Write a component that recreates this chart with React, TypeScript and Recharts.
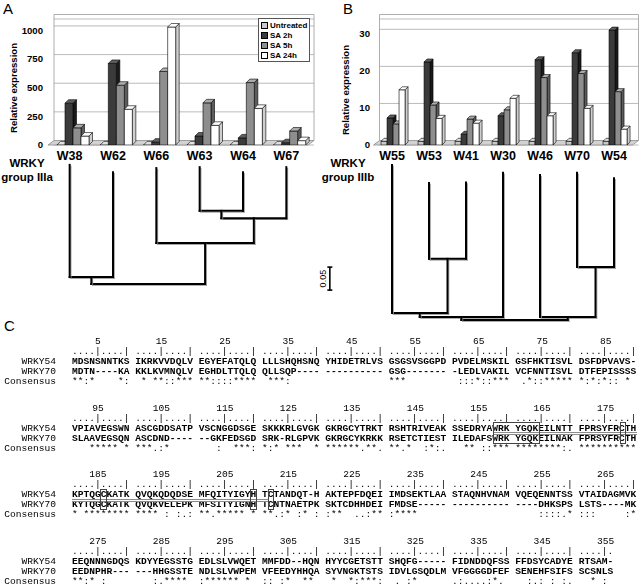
import React from 'react';
import {
  BarChart, Bar, XAxis, YAxis, CartesianGrid, ReferenceArea, Legend,
  ScatterChart, Scatter, ReferenceLine,
} from 'recharts';

// ---------------- data ----------------
const treatmentNames = ['Untreated', 'SA 2h', 'SA 5h', 'SA 24h'];
const treatmentKeys = ['u', 'h2', 'h5', 'h24'];

const iiiaGenes = ['W38', 'W62', 'W66', 'W63', 'W64', 'W67'];
const iiiaUntreated = [1, 1, 1, 1, 1, 1];
const iiiaSA2h = [365, 712, 25, 78, 62, 20];
const iiiaSA5h = [150, 522, 642, 368, 545, 122];
const iiiaSA24h = [78, 312, 1030, 172, 320, 38];
const iiiaTicks = [0, 250, 500, 750, 1000];
const iiiaGridTicks = [250, 500, 750, 1000];

const iiibGenes = ['W55', 'W53', 'W41', 'W30', 'W46', 'W70', 'W54'];
const iiibUntreated = [1, 1, 1, 1, 1, 1, 1];
const iiibSA2h = [7.3, 22.4, 2.9, 7.9, 23.0, 24.9, 31.0];
const iiibSA5h = [5.7, 10.8, 7.0, 9.5, 18.2, 19.3, 14.4];
const iiibSA24h = [14.9, 7.2, 5.9, 12.6, 7.9, 9.9, 4.3];
const iiibTicks = [0, 10, 20, 30];
const iiibGridTicks = [10, 20, 30];

// dendrograms: leaf depth from root, merges [childA, childB, depth]
const iiiaLeafDepth = [0.259, 0.243, 0.252, 0.254, 0.243, 0.254];
const iiiaMerges = [[3, 4, 0.159], [6, 5, 0.143], [2, 7, 0.089], [0, 1, 0.015], [9, 8, 0]];
const iiibLeafDepth = [0.337, 0.298, 0.299, 0.32, 0.315, 0.32, 0.308];
const iiibMerges = [[1, 2, 0.133], [0, 7, 0.015], [8, 3, 0.0065], [5, 6, 0.115], [4, 10, 0.0065], [9, 11, 0]];
const scaleBarLength = 0.05;
const scaleBarLabel = '0.05';
const scaleBarPos = { x: -1.68, y: 0.065 };

// alignment
const rulerStarts = [1, 91, 181, 271];
const rowNames = ['WRKY54', 'WRKY70', 'Consensus'];
const wrky54Rows = [
  'MDSNSNNTKS IKRKVVDQLV EGYEFATQLQ LLLSHQHSNQ YHIDETRLVS GSGSVSGGPD PVDELMSKIL GSFHKTISVL DSFDPVAVS-',
  'VPIAVEGSWN ASCGDDSATP VSCNGGDSGE SKKKRLGVGK GKRGCYTRKT RSHTRIVEAK SSEDRYAWRK YGQKEILNTT FPRSYFRCTH',
  'KPTQGCKATK QVQKQDQDSE MFQITYIGYH TCTANDQT-H AKTEPFDQEI IMDSEKTLAA STAQNHVNAM VQEQENNTSS VTAIDAGMVK',
  'EEQNNNGDQS KDYYEGSSTG EDLSLVWQET MMFDD--HQN HYYCGETSTT SHQFG----- FIDNDDQFSS FFDSYCADYE RTSAM-',
];
const wrky70Rows = [
  'MDTN----KA KKLKVMNQLV EGHDLTTQLQ QLLSQP---- ---------- GSG------- -LEDLVAKIL VCFNNTISVL DTFEPISSSS',
  'SLAAVEGSQN ASCDND---- --GKFEDSGD SRK-RLGPVK GKRGCYKRKK RSETCTIEST ILEDAFSWRK YGQKEILNAK FPRSYFRCTH',
  'KYTQGCKATK QVQKVELEPK MFSITYIGNH TCNTNAETPK SKTCDHHDEI FMDSE----- ---------- ----DHKSPS LSTS----MK',
  'EEDNPHR--- ---HHGSSTE NDLSLVWPEM VFEEDYHHQA SYVNGKTSTS IDVLGSQDLM VFGGGGDFEF SENEHFSIFS SCSNLS',
];
const consensusChunks = [
  ['**:*    *:', ' * **::***', '**::::****', ' ***:     ', '          ', '***       ', ' :::*::***', ' .*::*****', '*:*:*:: * '],
  ['   ***** *', '***.:*    ', '   :  ***:', '*:* ***  *', '******.**.', '**.*  :*:.', '  ** ::***', '********:.', '**********'],
  ['* ********', '**** : :.:', '**.***** *', '**.:* :* :', ':**  ..:**', ':****     ', '          ', '    ::::.*', ':::     :*'],
  ['**:* :    ', '   :.**** ', ':****** * ', ':: :*  ** ', ' *  *:***:', ' . :*     ', '.:....:*. ', '  :.: : :.', '  * : '],
];
const rulerChunks = [
  Array(9).fill('....|....|'),
  Array(9).fill('....|....|'),
  Array(9).fill('....|....|'),
  [...Array(8).fill('....|....|'), '....|.'],
];
const boxedResidues = [
  { block: 1, from: 158, to: 164 },
  { block: 1, from: 178, to: 178 },
  { block: 2, from: 186, to: 186 },
  { block: 2, from: 210, to: 210 },
  { block: 2, from: 212, to: 212 },
];
const underlinedResidues = [
  { block: 1, from: 158, to: 180 },
  { block: 2, from: 181, to: 211 },
];

// ---------------- styles ----------------
const SANS = '"Liberation Sans", Arial, sans-serif';
const MONO = '"Liberation Mono", "Courier New", monospace';
const frontColors = ['#c8c8c8', '#3b3b3b', '#8e8e8e', '#ffffff'];
const topColors = ['#e0e0e0', '#5e5e5e', '#ababab', '#ffffff'];
const sideColors = ['#969696', '#1a1a1a', '#5c5c5c', '#cfcfcf'];

const PLOT_TOP = 19;
const X_AXIS_H = 20;
const CHART_H = 165;
const PLOT_H = CHART_H - PLOT_TOP - X_AXIS_H;
const WALL_DX = 6;
const WALL_DY = 4.5;

const wallDomain = (max: number) => {
  const u = (max / PLOT_H) * WALL_DY;
  return [-u, max - u];
};

const makeBox = (i: number, d: number, shift: number) => (props: any) => {
  const { x, y, width, height } = props;
  if (x == null || y == null || !isFinite(x) || !isFinite(y)) return <g />;
  const x0 = x + shift;
  const w = width;
  const h = Math.max(height || 0, 0);
  const top = `${x0},${y} ${x0 + d},${y - d} ${x0 + w + d},${y - d} ${x0 + w},${y}`;
  const side = `${x0 + w},${y} ${x0 + w + d},${y - d} ${x0 + w + d},${y + h - d} ${x0 + w},${y + h}`;
  return (
    <g stroke="#000" strokeWidth={0.6} strokeLinejoin="round">
      <polygon points={side} fill={sideColors[i]} />
      <rect x={x0} y={y} width={w} height={h} fill={frontColors[i]} />
      <polygon points={top} fill={topColors[i]} />
    </g>
  );
};

const frameShape = (p: any) => {
  const { x, y, width, height } = p;
  const b = y + height;
  return (
    <g>
      <polygon
        points={`${x},${b} ${x + width},${b} ${x + width + WALL_DX},${b - WALL_DY} ${x + WALL_DX},${b - WALL_DY}`}
        fill="#d2d2d2" stroke="#8a8a8a" strokeWidth={0.8}
      />
      <polyline
        points={`${x + WALL_DX},${b - WALL_DY} ${x + WALL_DX},${y - WALL_DY} ${x + width + WALL_DX},${y - WALL_DY} ${x + width + WALL_DX},${b - WALL_DY}`}
        fill="none" stroke="#9a9a9a" strokeWidth={0.8}
      />
    </g>
  );
};

const legendContent = () => (
  <div style={{ border: '1px solid #555', background: '#fff', padding: '1px 2px 1px 2px', width: 46, fontFamily: SANS }}>
    {treatmentNames.map((n, i) => (
      <div key={n} style={{ display: 'flex', alignItems: 'center', height: 10, fontSize: 8, fontWeight: 700, color: '#000', whiteSpace: 'nowrap' }}>
        <span style={{ display: 'inline-block', flex: '0 0 auto', width: 5, height: 5, border: '1px solid #000', background: frontColors[i], marginRight: 2 }} />
        <span>{n}</span>
      </div>
    ))}
  </div>
);

const yLabel = (cx: number, dy: number) => (props: any) => {
  const vb = props.viewBox || { x: 0, y: 0, width: 0, height: 0 };
  const x = vb.x + cx;
  const y = vb.y + vb.height / 2 + dy;
  return (
    <text x={x} y={y} transform={`rotate(-90 ${x} ${y})`} textAnchor="middle" dominantBaseline="central"
      style={{ fontFamily: SANS, fontSize: 9.6, fontWeight: 700, fill: '#000' }}>
      Relative expression
    </text>
  );
};

function ExpressionChart(props: {
  genes: string[]; series: number[][]; max: number; ticks: number[]; gridTicks: number[];
  yWidth: number; marginRight: number; depth: number; shift: number; labelCx: number; labelDy: number; legend?: boolean;
}) {
  const { genes, series, max, ticks, gridTicks, yWidth, marginRight, depth, shift, labelCx, labelDy, legend } = props;
  const data = genes.map((g, i) => {
    const row: any = { gene: g };
    treatmentKeys.forEach((k, j) => { row[k] = series[j][i]; });
    return row;
  });
  const W = 320;
  return (
    <BarChart width={W} height={CHART_H} data={data} margin={{ top: PLOT_TOP, right: marginRight, bottom: 0, left: 0 }}
      barCategoryGap="15%" barGap={0}>
      <XAxis dataKey="gene" height={X_AXIS_H} axisLine={false} tickLine={false} tickSize={4} tickMargin={2} interval={0}
        tick={{ fontSize: 12.5, fontWeight: 700, fill: '#000', fontFamily: SANS }} />
      <YAxis width={yWidth} domain={[0, max]} ticks={ticks} allowDataOverflow axisLine={false} tickLine={false}
        tickSize={yWidth === 48 ? 3 : 1.5} tickMargin={2} interval={0}
        tick={{ fontSize: 9.6, fontWeight: 700, fill: '#000', fontFamily: SANS }}
        label={yLabel(labelCx, labelDy)} />
      <YAxis yAxisId="wall" hide domain={wallDomain(max)} ticks={gridTicks} allowDataOverflow />
      <ReferenceArea y1={0} y2={max} shape={frameShape} ifOverflow="visible" />
      <CartesianGrid yAxisId="wall" vertical={false} stroke="#a9a9a9" strokeWidth={0.8}
        x={yWidth + WALL_DX} width={W - yWidth - marginRight} />
      {treatmentKeys.map((k, i) => (
        <Bar key={k} dataKey={k} name={treatmentNames[i]} fill={frontColors[i]} stroke="#000"
          shape={makeBox(i, depth, shift)} isAnimationActive={false} />
      ))}
      {legend && (
        <Legend layout="horizontal" verticalAlign="middle" align="center" content={legendContent}
          wrapperStyle={{ top: 18, left: 258, width: 'auto', height: 'auto' }} />
      )}
    </BarChart>
  );
}

const branchShape = (p: any) => (
  <g>
    <line x1={p.x1 + 1.3} y1={p.y1 + 1.3} x2={p.x2 + 1.3} y2={p.y2 + 1.3} stroke="#9a9a9a" strokeWidth={1} strokeLinecap="square" />
    <line x1={p.x1} y1={p.y1} x2={p.x2} y2={p.y2} stroke="#000" strokeWidth={2} strokeLinecap="square" />
  </g>
);

const scaleBarShape = (p: any) => {
  const cy = (p.y1 + p.y2) / 2;
  const tx = p.x1 - 4;
  return (
    <g stroke="#000" strokeWidth={1.6}>
      <line x1={p.x1} y1={p.y1} x2={p.x2} y2={p.y2} />
      <line x1={p.x1 - 2.5} y1={p.y1} x2={p.x1 + 2.5} y2={p.y1} />
      <line x1={p.x2 - 2.5} y1={p.y2} x2={p.x2 + 2.5} y2={p.y2} />
      <text x={tx} y={cy} transform={`rotate(-90 ${tx} ${cy})`} textAnchor="middle" stroke="none"
        style={{ fontFamily: SANS, fontSize: 9, fill: '#000' }}>{scaleBarLabel}</text>
    </g>
  );
};

function Dendrogram(props: {
  leafDepth: number[]; merges: number[][]; xDomain: number[]; yMax: number;
  width: number; height: number; margin: any; scaleBar?: boolean;
}) {
  const { leafDepth, merges, xDomain, yMax, width, height, margin, scaleBar } = props;
  const nodes = leafDepth.map((d, i) => ({ x: i, y: d }));
  const segs: { x: number; y: number }[][] = [];
  merges.forEach(([a, b, d]) => {
    const na = nodes[a];
    const nb = nodes[b];
    segs.push([{ x: na.x, y: d }, { x: nb.x, y: d }]);
    segs.push([{ x: na.x, y: d }, { x: na.x, y: na.y }]);
    segs.push([{ x: nb.x, y: d }, { x: nb.x, y: nb.y }]);
    nodes.push({ x: (na.x + nb.x) / 2, y: d });
  });
  const leaves = leafDepth.map((d, i) => ({ x: i, y: d }));
  return (
    <ScatterChart width={width} height={height} margin={margin}>
      <XAxis type="number" dataKey="x" domain={xDomain} hide allowDataOverflow />
      <YAxis type="number" dataKey="y" domain={[0, yMax]} hide allowDataOverflow />
      <Scatter data={leaves} shape={() => <g />} isAnimationActive={false} />
      {segs.map((s, i) => (
        <ReferenceLine key={i} segment={s} shape={branchShape} ifOverflow="visible" />
      ))}
      {scaleBar && (
        <ReferenceLine
          segment={[{ x: scaleBarPos.x, y: scaleBarPos.y }, { x: scaleBarPos.x, y: scaleBarPos.y + scaleBarLength }]}
          shape={scaleBarShape} ifOverflow="visible" />
      )}
    </ScatterChart>
  );
}

// ---------------- alignment layout ----------------
const CHAR_W = 5.77;
const SEQ_X = 72;
const LABEL_RIGHT = 56;
const BLOCK_Y = [341.5, 408, 474.5, 541];
const LINE_OFF = [0, 10, 20, 30, 40];
const FONT_PX = 9.6;
const LINE_H = 9;
const TOP_ADJ = 4.2;
const TEXT_COLOR = '#000';

const colOf = (block: number, pos: number) => {
  const idx = pos - rulerStarts[block];
  return Math.floor(idx / 10) * 11 + (idx % 10);
};

const monoLine = (text: string, left: number, cy: number, key: string, weight: number) => (
  <div key={key} style={{
    position: 'absolute', left, top: cy - TOP_ADJ, height: LINE_H, lineHeight: `${LINE_H}px`,
    fontFamily: MONO, fontSize: FONT_PX, whiteSpace: 'pre', color: TEXT_COLOR, fontWeight: weight,
  }}>{text}</div>
);

function Alignment() {
  const items: any[] = [];
  BLOCK_Y.forEach((by, b) => {
    const nChunks = rulerChunks[b].length;
    for (let c = 0; c < nChunks; c++) {
      const n = rulerStarts[b] + c * 10 + 4;
      const cx = SEQ_X + (c * 11 + 4) * CHAR_W + CHAR_W / 2;
      items.push(
        <div key={`n${b}-${c}`} style={{
          position: 'absolute', left: cx - 12, width: 24, textAlign: 'center', top: by + LINE_OFF[0] - TOP_ADJ,
          height: LINE_H, lineHeight: `${LINE_H}px`, fontFamily: MONO, fontSize: FONT_PX, color: TEXT_COLOR,
        }}>{n}</div>
      );
    }
    items.push(monoLine(rulerChunks[b].join(' '), SEQ_X, by + LINE_OFF[1], `r${b}`, 400));
    const seqs = [wrky54Rows[b], wrky70Rows[b], consensusChunks[b].join(' ')];
    seqs.forEach((s, r) => {
      items.push(
        <div key={`l${b}-${r}`} style={{
          position: 'absolute', left: 0, width: LABEL_RIGHT, textAlign: 'right', top: by + LINE_OFF[2 + r] - TOP_ADJ,
          height: LINE_H, lineHeight: `${LINE_H}px`, fontFamily: MONO, fontSize: FONT_PX, color: TEXT_COLOR, whiteSpace: 'pre',
        }}>{rowNames[r]}</div>
      );
      items.push(monoLine(s, SEQ_X, by + LINE_OFF[2 + r], `s${b}-${r}`, r < 2 ? 700 : 400));
    });
  });
  underlinedResidues.forEach((u, i) => {
    const x1 = SEQ_X + colOf(u.block, u.from) * CHAR_W;
    const x2 = SEQ_X + (colOf(u.block, u.to) + 1) * CHAR_W;
    const y = BLOCK_Y[u.block] + LINE_OFF[2] + 4;
    items.push(<div key={`u${i}`} style={{ position: 'absolute', left: x1, top: y, width: x2 - x1, height: 1, borderTop: '1px solid #8a8a8a', borderBottom: '1px solid #8a8a8a' }} />);
  });
  boxedResidues.forEach((bx, i) => {
    const x1 = SEQ_X + colOf(bx.block, bx.from) * CHAR_W - 0.5;
    const x2 = SEQ_X + (colOf(bx.block, bx.to) + 1) * CHAR_W + 0.5;
    const y1 = BLOCK_Y[bx.block] + LINE_OFF[2] - 6;
    const y2 = BLOCK_Y[bx.block] + LINE_OFF[3] + 5.5;
    items.push(<div key={`b${i}`} style={{ position: 'absolute', left: x1, top: y1, width: x2 - x1, height: y2 - y1, border: '1px solid #444', boxSizing: 'border-box' }} />);
  });
  return (
    <div style={{ position: 'absolute', left: 0, top: 0, width: 640, height: 588, willChange: 'transform', transform: 'translateZ(0)' }}>
      {items}
    </div>
  );
}

const panelLetter = (t: string, left: number, top: number) => (
  <div style={{ position: 'absolute', left, top, fontFamily: SANS, fontSize: 15, color: '#000', lineHeight: '16px' }}>{t}</div>
);

const groupLabel = (line2: string, left: number) => (
  <div style={{ position: 'absolute', left, top: 156, width: 54, textAlign: 'center', fontFamily: SANS, fontSize: 11.5, fontWeight: 700, lineHeight: '14px', color: '#000' }}>
    WRKY<br />{line2}
  </div>
);

export default function App() {
  return (
    <div style={{ position: 'absolute', left: 0, top: 0, width: 640, height: 588, background: '#fff', overflow: 'hidden', fontFamily: SANS }}>
      <div style={{ position: 'absolute', left: 0, top: 0 }}>
        <ExpressionChart genes={iiiaGenes} series={[iiiaUntreated, iiiaSA2h, iiiaSA5h, iiiaSA24h]} max={1100}
          ticks={iiiaTicks} gridTicks={iiiaGridTicks} yWidth={48} marginRight={12} depth={3.5} shift={2.5}
          labelCx={13.3} labelDy={6} legend />
      </div>
      <div style={{ position: 'absolute', left: 320, top: 0 }}>
        <ExpressionChart genes={iiibGenes} series={[iiibUntreated, iiibSA2h, iiibSA5h, iiibSA24h]} max={34}
          ticks={iiibTicks} gridTicks={iiibGridTicks} yWidth={53.5} marginRight={7.5} depth={3} shift={2}
          labelCx={25.7} labelDy={8} />
      </div>
      <div style={{ position: 'absolute', left: 0, top: 150 }}>
        <Dendrogram leafDepth={iiiaLeafDepth} merges={iiiaMerges} xDomain={[-0.5, 5.5]} yMax={0.26}
          width={320} height={140} margin={{ top: 14.4, right: 12, bottom: 6, left: 48 }} />
      </div>
      <div style={{ position: 'absolute', left: 290, top: 150 }}>
        <Dendrogram leafDepth={iiibLeafDepth} merges={iiibMerges} xDomain={[-2.5, 6.5]} yMax={0.34}
          width={350} height={180} margin={{ top: 13.6, right: 7.5, bottom: 10, left: 9.5 }} scaleBar />
      </div>
      {panelLetter('A', 3, 1)}
      {panelLetter('B', 343, 1)}
      {panelLetter('C', 4, 318)}
      {groupLabel('group IIIa', 0)}
      {groupLabel('group IIIb', 321)}
      <Alignment />
    </div>
  );
}
